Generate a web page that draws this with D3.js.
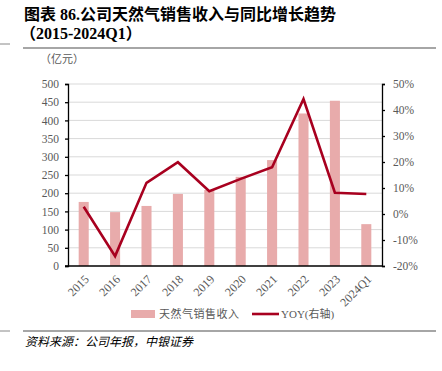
<!DOCTYPE html>
<html>
<head>
<meta charset="utf-8">
<script src="https://cdn.jsdelivr.net/npm/d3@7"></script>
<style>
  body { margin: 0; background: #fff; }
  svg { display: block; }
  text { font-family: "Liberation Serif", "Noto Sans CJK SC", serif; }
</style>
</head>
<body>
<svg width="442" height="371"></svg>
<script>
// data
var categories = ["2015", "2016", "2017", "2018", "2019", "2020", "2021", "2022", "2023", "2024Q1"];
var revenue = [176, 148, 165, 198, 209, 245, 291, 419, 454, 115];   // 亿元
var yoy = [2.8, -16.2, 12.0, 19.9, 8.8, 13.5, 18.0, 44.2, 8.2, 7.7];   // %
var leftTicks = [0, 50, 100, 150, 200, 250, 300, 350, 400, 450, 500];
var rightTicks = [-20, -10, 0, 10, 20, 30, 40, 50];

var svg = d3.select("svg");
var plotLeft = 68, plotRight = 382, plotTop = 84, plotBottom = 266;
var barColor = "#e8abab", lineColor = "#a8001f";

// header
svg.append("text")
    .attr("x", 24).attr("y", 20)
    .attr("font-size", 16).attr("font-weight", "bold").attr("fill", "#000")
    .text("图表 86.公司天然气销售收入与同比增长趋势");
svg.append("text")
    .attr("x", 20).attr("y", 39)
    .attr("font-size", 16).attr("font-weight", "bold").attr("fill", "#000")
    .text("（2015-2024Q1）");

// rules top and bottom
[[44, 48], [331, 331]].forEach(function(r) {
    svg.append("line").attr("x1", 0).attr("x2", 10).attr("y1", r[0]).attr("y2", r[0])
        .attr("stroke", "#888").attr("stroke-width", 1);
    svg.append("line").attr("x1", 23).attr("x2", 436).attr("y1", r[1]).attr("y2", r[1])
        .attr("stroke", "#888").attr("stroke-width", 1.5);
});

svg.append("text")
    .attr("x", 40).attr("y", 63)
    .attr("font-size", 11).attr("fill", "#595959")
    .text("（亿元）");

var x = d3.scaleBand().domain(categories).range([plotLeft, plotRight]).paddingInner(0.68).paddingOuter(0.34);
var xc = function(d) { return x(d) + x.bandwidth() / 2; };
var yL = d3.scaleLinear().domain([0, 500]).range([plotBottom, plotTop]);
var yR = d3.scaleLinear().domain([-20, 50]).range([plotBottom, plotTop]);

// gridlines
svg.append("g").selectAll("line")
    .data(leftTicks.slice(1))
  .enter().append("line")
    .attr("x1", plotLeft).attr("x2", plotRight)
    .attr("y1", function(d) { return yL(d); }).attr("y2", function(d) { return yL(d); })
    .attr("stroke", "#d9d9d9").attr("stroke-width", 1);

// bars
svg.append("g").selectAll("rect")
    .data(revenue)
  .enter().append("rect")
    .attr("x", function(d, i) { return x(categories[i]); })
    .attr("width", x.bandwidth())
    .attr("y", function(d) { return yL(d); })
    .attr("height", function(d) { return yL(0) - yL(d); })
    .attr("fill", barColor);

// axes
var leftAxis = svg.append("g")
    .attr("transform", "translate(" + plotLeft + ",0)")
    .call(d3.axisLeft(yL).tickValues(leftTicks).tickSize(3).tickPadding(6));
var rightAxis = svg.append("g")
    .attr("transform", "translate(" + plotRight + ",0)")
    .call(d3.axisRight(yR).tickValues(rightTicks).tickSize(3).tickPadding(8)
        .tickFormat(function(d) { return d + "%"; }));
var bottomAxis = svg.append("g")
    .attr("transform", "translate(0," + plotBottom + ")")
    .call(d3.axisBottom(x).tickSize(0).tickPadding(8));

[leftAxis, rightAxis, bottomAxis].forEach(function(a) {
    a.select(".domain").attr("stroke", "#000").attr("stroke-width", 1.3);
    a.selectAll(".tick line").attr("stroke", "#000").attr("stroke-width", 1.3);
    a.selectAll("text").attr("font-family", "Liberation Serif, serif")
        .attr("font-size", 11.5).attr("fill", "#595959");
});
bottomAxis.select(".domain").attr("d", "M" + (plotLeft - 3) + ",0H" + plotRight);
bottomAxis.selectAll("text")
    .attr("font-size", 12)
    .attr("text-anchor", "end")
    .attr("y", 0).attr("dy", "0.35em")
    .attr("transform", "translate(3,11) rotate(-45)");

// yoy line
var line = d3.line()
    .x(function(d, i) { return xc(categories[i]); })
    .y(function(d) { return yR(d); });
svg.append("path")
    .datum(yoy)
    .attr("d", line)
    .attr("fill", "none")
    .attr("stroke", lineColor)
    .attr("stroke-width", 2.6)
    .attr("stroke-linejoin", "miter");

// legend
var legend = svg.append("g").attr("transform", "translate(0,314)");
legend.append("rect").attr("x", 131).attr("y", -4).attr("width", 24).attr("height", 8).attr("fill", barColor);
legend.append("text").attr("x", 159).attr("y", 4).attr("font-size", 11).attr("fill", "#595959")
    .attr("letter-spacing", 0.5)
    .text("天然气销售收入");
legend.append("line").attr("x1", 252).attr("x2", 279).attr("y1", 0).attr("y2", 0)
    .attr("stroke", lineColor).attr("stroke-width", 2.6);
legend.append("text").attr("x", 281).attr("y", 4).attr("font-size", 11).attr("fill", "#595959")
    .text("YOY(右轴)");

// source
svg.append("text")
    .attr("x", 25).attr("y", 346)
    .attr("font-size", 12).attr("font-style", "italic").attr("fill", "#000")
    .text("资料来源：公司年报，中银证券");
</script>
</body>
</html>
